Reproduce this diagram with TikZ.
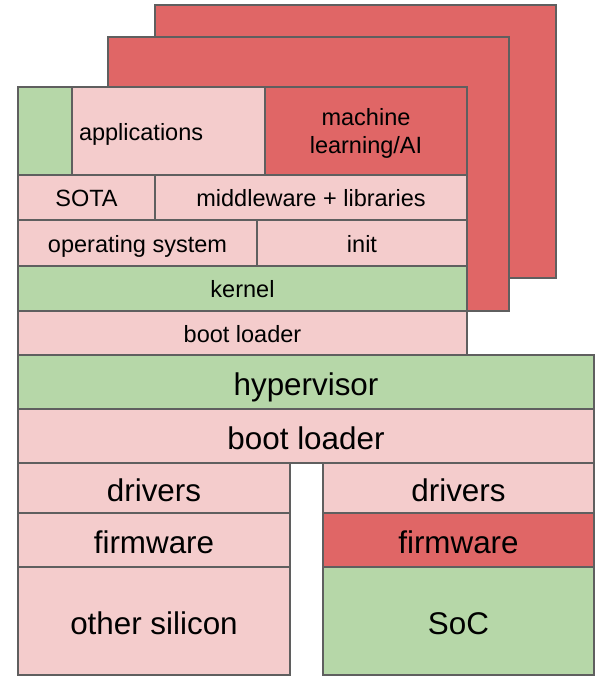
\documentclass[tikz,border=0pt]{standalone}
\usepackage{fontspec}
\setmainfont{Liberation Sans}
\definecolor{pinkfill}{HTML}{F4CCCC}
\definecolor{redfill}{HTML}{E06666}
\definecolor{greenfill}{HTML}{B6D7A8}
\definecolor{edge}{HTML}{5F5F5F}
\tikzset{
  layer/.style={draw=edge, line width=1.2bp, inner sep=0pt, outer sep=0pt,
    anchor=north west, align=center},
  small/.style={font=\fontsize{23.6}{28}\selectfont, text height=18.5bp, text depth=0bp},
  big/.style={font=\fontsize{31.5}{36}\selectfont, text height=26bp, text depth=0bp},
  pink/.style={fill=pinkfill},
  red/.style={fill=redfill},
  green/.style={fill=greenfill},
}
\begin{document}
\begin{tikzpicture}[x=1bp,y=-1bp]% one unit per pixel, y growing downwards
\useasboundingbox (0,0) rectangle (596,676);
% stacked copies behind the front stack
\node[layer,red,minimum width=401bp,minimum height=273bp] (backA) at (155,5) {};
\node[layer,red,minimum width=401bp,minimum height=274bp] (backB) at (108,37) {};
% front software stack
\node[layer,green,minimum width=54bp,minimum height=88bp] (appside) at (18,87) {};
\node[layer,pink,small,minimum height=88bp,text width=179bp,inner xsep=7bp,align=left] (apps) at (72,87) {applications};
\node[layer,red,font=\fontsize{23.6}{28}\selectfont,text depth=0bp,minimum width=202bp,minimum height=88bp] (ml) at (265,87) {machine\\learning/AI};
\node[layer,pink,small,minimum width=137bp,minimum height=45bp] (sota) at (18,175) {SOTA};
\node[layer,pink,small,minimum width=312bp,minimum height=45bp] (mid) at (155,175) {middleware + libraries};
\node[layer,pink,small,minimum width=239bp,minimum height=46bp] (os) at (18,220) {operating system};
\node[layer,pink,small,minimum width=210bp,minimum height=46bp] (init) at (257,220) {init};
\node[layer,green,small,minimum width=449bp,minimum height=45bp] (kernel) at (18,266) {kernel};
\node[layer,pink,small,minimum width=449bp,minimum height=44bp] (bootA) at (18,311) {boot loader};
% platform layers
\node[layer,green,big,minimum width=576bp,minimum height=54bp] (hyper) at (18,355) {hypervisor};
\node[layer,pink,big,minimum width=576bp,minimum height=54bp] (bootB) at (18,409) {boot loader};
% left column: other silicon
\node[layer,pink,big,minimum width=272bp,minimum height=50bp] (drvL) at (18,463) {drivers};
\node[layer,pink,big,minimum width=272bp,minimum height=54bp] (fwL) at (18,513) {firmware};
\node[layer,pink,big,minimum width=272bp,minimum height=108bp] (silicon) at (18,567) {other silicon};
% right column: SoC
\node[layer,pink,big,minimum width=271bp,minimum height=50bp] (drvR) at (323,463) {drivers};
\node[layer,red,big,minimum width=271bp,minimum height=54bp] (fwR) at (323,513) {firmware};
\node[layer,green,big,minimum width=271bp,minimum height=108bp] (soc) at (323,567) {SoC};
\end{tikzpicture}
\end{document}
